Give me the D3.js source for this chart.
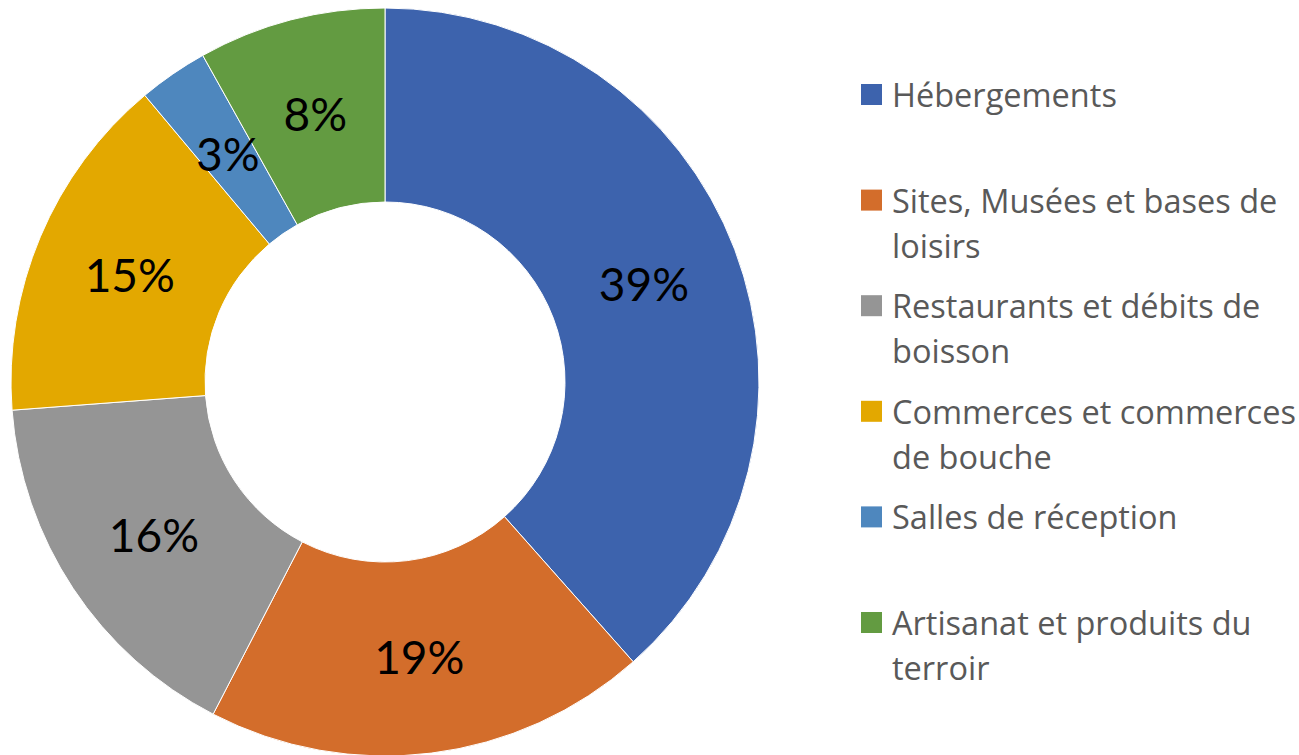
<!DOCTYPE html>
<html><head><meta charset="utf-8">
<script src="https://cdn.jsdelivr.net/npm/d3@7"></script>
<style>body{margin:0;background:#fff;}svg{display:block;}</style>
</head><body>
<svg id="c" width="1299" height="755"></svg>
<script>
const categories = ["Hébergements","Sites, Musées et bases de loisirs","Restaurants et débits de boisson","Commerces et commerces de bouche","Salles de réception","Artisanat et produits du terroir"];
const legendLines = [["Hébergements"],["Sites, Musées et bases de","loisirs"],["Restaurants et débits de","boisson"],["Commerces et commerces","de bouche"],["Salles de réception"],["Artisanat et produits du","terroir"]];
const values = [38.45, 19.15, 16.2, 15.1, 3.0, 8.1];
const percentLabels = ["39%","19%","16%","15%","3%","8%"];
const colors = ["#3d63ad","#d36d2b","#959595","#e3a800","#4e87be","#639b41"];

const svg = d3.select("#c");
const cx = 385, cy = 382, R = 374, r = 180;
const pie = d3.pie().sort(null).value(d => d)(values);
const arc = d3.arc().innerRadius(r).outerRadius(R);
const labelArc = d3.arc().innerRadius((R+r)/2).outerRadius((R+r)/2);
const g = svg.append("g").attr("transform",`translate(${cx},${cy})`);
g.selectAll("path").data(pie).join("path")
  .attr("d", arc).attr("fill",(d,i)=>colors[i])
  .attr("stroke","#fff").attr("stroke-width",1);
g.selectAll("text").data(pie).join("text")
  .attr("transform", d => `translate(${labelArc.centroid(d)})`)
  .attr("text-anchor","middle").attr("dominant-baseline","central")
  .attr("font-family","Lato, 'Open Sans', sans-serif").attr("font-size",46)
  .attr("fill","#000")
  .text((d,i) => percentLabels[i]);

const lg = svg.append("g");
const rowY = d3.scalePoint().domain(d3.range(categories.length)).range([105,633]);
categories.forEach((c,i)=>{
  const y = rowY(i);
  lg.append("rect").attr("x",861).attr("y",y-21).attr("width",21).attr("height",21).attr("fill",colors[i]);
  const t = lg.append("text").attr("x",892).attr("y",y+2)
    .attr("font-family","'Open Sans', sans-serif").attr("font-size",32.5).attr("fill","#595959");
  legendLines[i].forEach((ln,j)=>{
    t.append("tspan").attr("x",892).attr("y",y+2+j*45).text(ln);
  });
});
</script>
</body></html>
